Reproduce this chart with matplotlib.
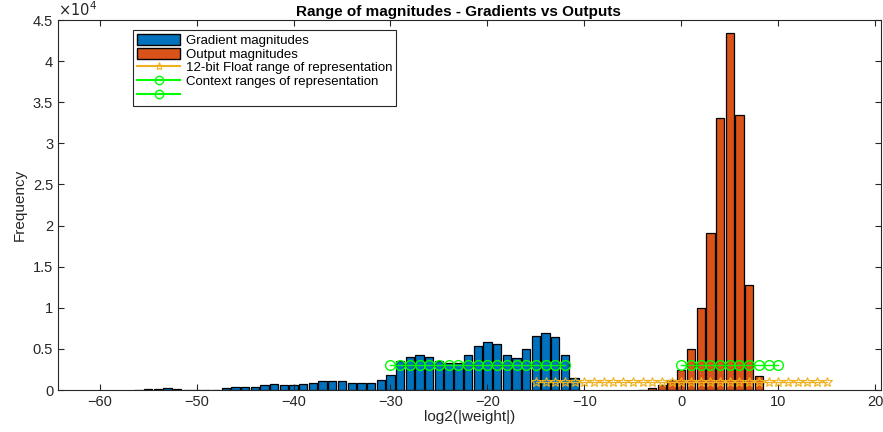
import numpy as np
from matplotlib import pyplot as plt
from matplotlib.patches import Patch
from matplotlib.lines import Line2D
from matplotlib.ticker import FixedLocator, FuncFormatter

plt.rcParams['font.family'] = ['Liberation Sans', 'DejaVu Sans']

# gradient histogram (log2 bins, centres at integers -56 .. -11)
grad_bins = list(range(-56, -10))
grad_counts = [50, 100, 100, 300, 150, 0, 0, 0, 50, 200, 400, 400, 400, 600,
               700, 600, 600, 700, 900, 1100, 1100, 1100, 900, 800, 800, 1200,
               1800, 3500, 4000, 4200, 4000, 3500, 3300, 3300, 4200, 5300,
               5850, 5600, 4300, 3900, 5000, 6600, 6900, 6450, 4300, 1500]

# output histogram
out_bins = list(range(-4, 9))
out_counts = [50, 200, 600, 1200, 2450, 5000, 9950, 19100, 33100, 43400,
              33500, 12800, 1700]

# representation ranges
float_x = list(range(-15, 16))
float_y = [1000] * len(float_x)
ctx1_x = list(range(-30, -11))
ctx1_y = [3000] * len(ctx1_x)
ctx2_x = list(range(0, 11))
ctx2_y = [3000] * len(ctx2_x)

c_blue = '#0072BD'
c_orange = '#D95319'
c_yellow = '#EDB120'
c_green = '#00FF00'
axcol = '#262626'

fig = plt.figure(figsize=(8.83, 4.32), dpi=100)
ax = fig.add_axes([0.0657, 0.0972, 0.9320, 0.8565])

ax.bar(grad_bins, grad_counts, width=0.86, color=c_blue, edgecolor='black', linewidth=0.9)
ax.bar(out_bins, out_counts, width=0.86, color=c_orange, edgecolor='black', linewidth=0.9)
ax.plot(float_x, float_y, '-*', color=c_yellow, markerfacecolor='none', markersize=7,
        markeredgewidth=0.8, linewidth=1)
ax.plot(ctx1_x, ctx1_y, '-o', color=c_green, markerfacecolor='none', markersize=7, linewidth=1)
ax.plot(ctx2_x, ctx2_y, '-o', color=c_green, markerfacecolor='none', markersize=7, linewidth=1)

ax.set_xlim(-64.3, 20.6)
ax.set_ylim(0, 45000)
ax.xaxis.set_major_locator(FixedLocator(range(-60, 21, 10)))
ax.yaxis.set_major_locator(FixedLocator(np.arange(0, 45001, 5000)))
ax.yaxis.set_major_formatter(FuncFormatter(lambda v, p: '%g' % (v / 1e4)))
ax.tick_params(direction='in', top=True, right=True, colors=axcol, labelsize=10.5, length=4)
for s in ax.spines.values():
    s.set_color(axcol)
    s.set_linewidth(0.8)
ax.text(0.0, 1.004, r'$\times10^{4}$', transform=ax.transAxes, fontsize=10.5,
        color=axcol, ha='left', va='bottom')

ax.set_title('Range of magnitudes - Gradients vs Outputs', fontsize=11,
             fontweight='bold', pad=3, x=0.486)
ax.set_xlabel('log2(|weight|)', fontsize=11, color=axcol, labelpad=1)
ax.set_ylabel('Frequency', fontsize=11, color=axcol, labelpad=4)

handles = [
    Patch(facecolor=c_blue, edgecolor='black'),
    Patch(facecolor=c_orange, edgecolor='black'),
    Line2D([], [], color=c_yellow, marker='*', markerfacecolor='none', markeredgewidth=0.8),
    Line2D([], [], color=c_green, marker='o', markerfacecolor='none'),
    Line2D([], [], color=c_green, marker='o', markerfacecolor='none'),
]
labels = ['Gradient magnitudes', 'Output magnitudes',
          '12-bit Float range of representation',
          'Context ranges of representation', '']
leg = ax.legend(handles, labels, loc='upper left', bbox_to_anchor=(0.091, 0.973),
                fontsize=9.5, fancybox=False, edgecolor=axcol, framealpha=1,
                handlelength=3.3, handleheight=0.9, labelspacing=0.05,
                borderpad=0.3, handletextpad=0.4, borderaxespad=0)
leg.get_frame().set_linewidth(0.8)

fig.savefig('out.png', dpi=100)
